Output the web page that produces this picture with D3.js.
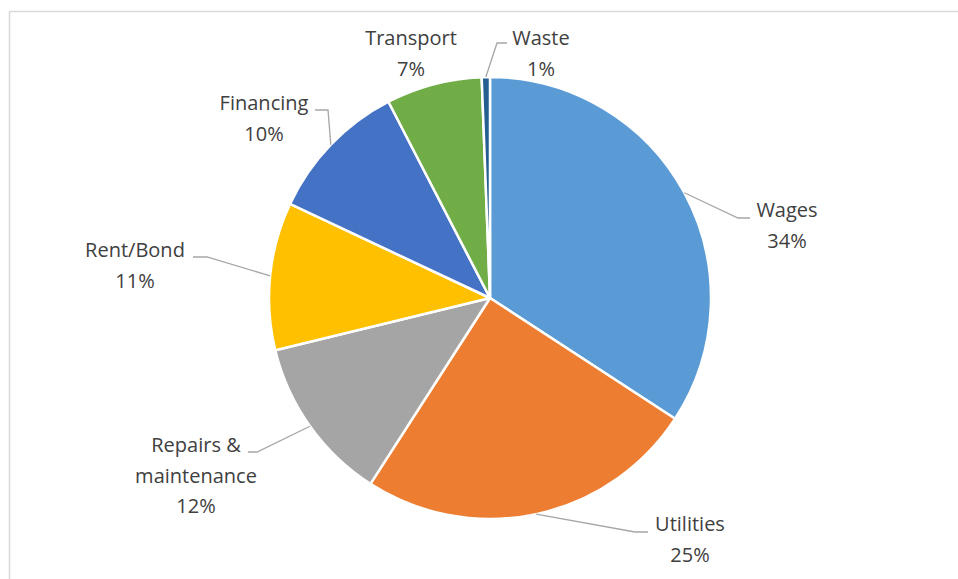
<!DOCTYPE html>
<html>
<head>
<meta charset="utf-8">
<script src="https://cdn.jsdelivr.net/npm/d3@7/dist/d3.min.js"></script>
<style>
  html, body { margin: 0; padding: 0; background: #fff; }
  svg { display: block; }
</style>
</head>
<body>
<svg id="chart" width="958" height="579"></svg>
<script>
// Operating cost breakdown (share of total, %)
const categories = ["Wages", "Utilities", "Repairs & maintenance", "Rent/Bond", "Financing", "Transport", "Waste"];
const shares = [34.2, 24.9, 12.1, 10.8, 10.4, 7.0, 0.6];
const percentLabels = ["34%", "25%", "12%", "11%", "10%", "7%", "1%"];
const colors = ["#5b9bd5", "#ed7d31", "#a5a5a5", "#ffc000", "#4472c4", "#70ad47", "#255e91"];

// Label text lines per category
const labelLines = [["Wages"], ["Utilities"], ["Repairs &", "maintenance"], ["Rent/Bond"], ["Financing"], ["Transport"], ["Waste"]];

// Label placement: centre x, first baseline, leader elbow and end (null = no leader)
const labelLayout = [
  { x: 787, y: 217, elbow: [738, 218], end: [750, 218] },
  { x: 690, y: 531, elbow: [635, 532], end: [648, 532] },
  { x: 196, y: 452, elbow: [257, 452], end: [248, 452] },
  { x: 135, y: 257, elbow: [207, 257], end: [193, 257] },
  { x: 264, y: 110, elbow: [328, 110], end: [315, 110] },
  { x: 411, y: 45, elbow: null, end: null },
  { x: 541, y: 45, elbow: [497, 43], end: [507, 43] }
];

const width = 958, height = 579;
const cx = 490, cy = 298, radius = 221;
const lineHeight = 30.5;

const svg = d3.select("#chart");

// Chart area frame
svg.append("rect")
  .attr("x", 9.5).attr("y", 11.5)
  .attr("width", width).attr("height", height)
  .attr("fill", "#fff")
  .attr("stroke", "#d9d9d9")
  .attr("stroke-width", 1.5);

const data = categories.map((c, i) => ({ name: c, value: shares[i], pct: percentLabels[i], color: colors[i], lines: labelLines[i], layout: labelLayout[i] }));

const pie = d3.pie().sort(null).value(d => d.value);
const arcs = pie(data);
const arc = d3.arc().innerRadius(0).outerRadius(radius);

const g = svg.append("g").attr("transform", `translate(${cx},${cy})`);

g.selectAll("path.slice")
  .data(arcs)
  .join("path")
  .attr("class", "slice")
  .attr("d", arc)
  .attr("fill", d => d.data.color)
  .attr("stroke", "#fff")
  .attr("stroke-width", 2.5)
  .attr("stroke-linejoin", "round");

// Leader lines from the slice's outer edge at mid-angle
const leaders = svg.append("g");
arcs.forEach(a => {
  const L = a.data.layout;
  if (!L.elbow) return;
  const mid = (a.startAngle + a.endAngle) / 2;
  const sx = cx + radius * Math.sin(mid);
  const sy = cy - radius * Math.cos(mid);
  leaders.append("polyline")
    .attr("points", [[sx, sy], L.elbow, L.end].map(p => p.join(",")).join(" "))
    .attr("fill", "none")
    .attr("stroke", "#a6a6a6")
    .attr("stroke-width", 1.3);
});

// Category and percentage labels
const labels = svg.append("g")
  .attr("font-family", "'Open Sans', 'Noto Sans', sans-serif")
  .attr("font-size", 20)
  .attr("fill", "#404040")
  .attr("text-anchor", "middle");

arcs.forEach(a => {
  const L = a.data.layout;
  const t = labels.append("text").attr("x", L.x).attr("y", L.y);
  const lines = a.data.lines.concat([a.data.pct]);
  lines.forEach((ln, i) => {
    t.append("tspan").attr("x", L.x).attr("y", L.y + i * lineHeight).text(ln);
  });
});
</script>
</body>
</html>
